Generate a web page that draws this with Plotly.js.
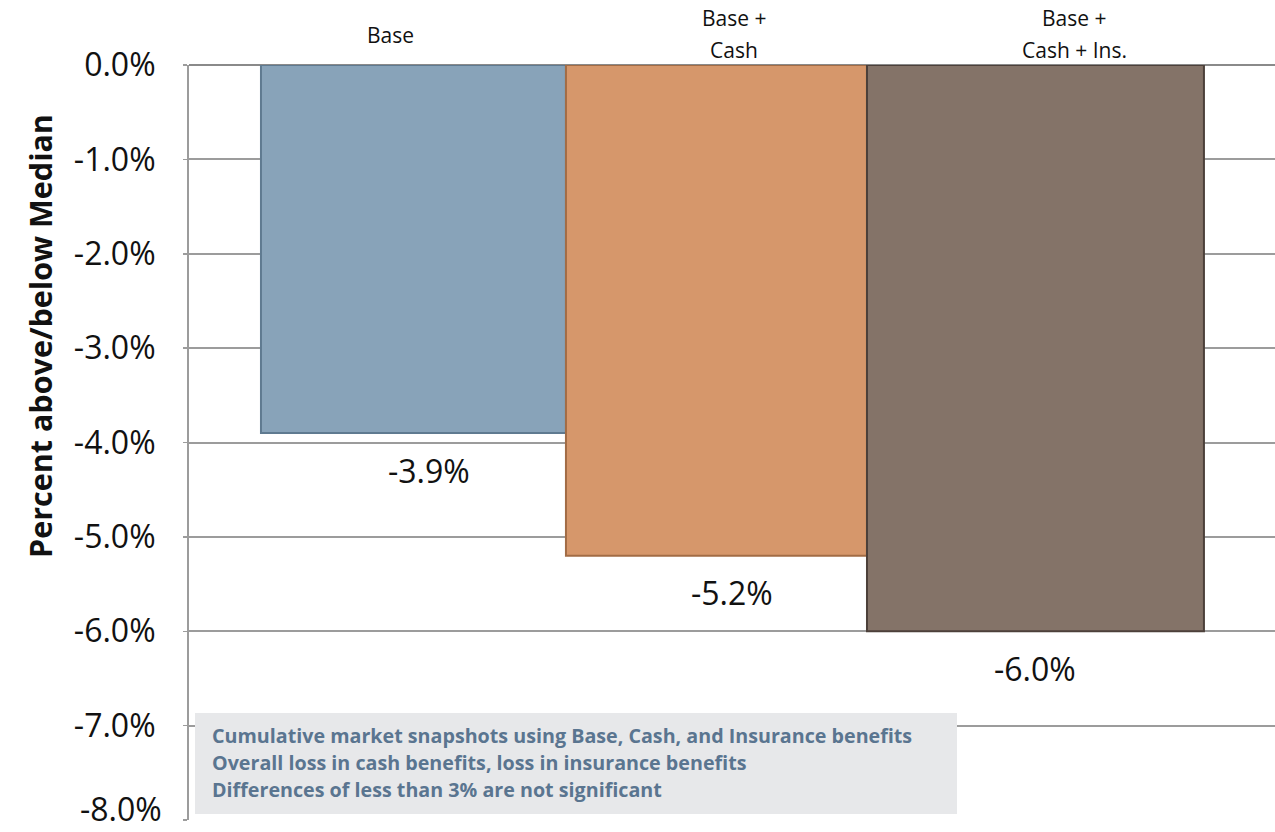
<!DOCTYPE html>
<html>
<head>
<meta charset="utf-8">
<script src="https://cdn.plot.ly/plotly-3.0.1.min.js"></script>
<style>
html,body{margin:0;padding:0;background:#fff;}
#chart{width:1275px;height:832px;}
</style>
</head>
<body>
<div id="chart"></div>
<script>
// ---- data ----
const categories = ["Base", "Base + Cash", "Base + Cash + Ins."];
const categoryLabels = ["Base", "Base +<br>Cash", "Base +<br>Cash + Ins."];
const values = [-3.9, -5.2, -6.0];
const yTickVals = [0, -1, -2, -3, -4, -5, -6, -7, -8];
const yAxisTitle = "Percent above/below Median";
const noteLines = [
  "Cumulative market snapshots using Base, Cash, and Insurance benefits",
  "Overall loss in cash benefits, loss in insurance benefits",
  "Differences of less than 3% are not significant"
];

// ---- styles ----
const barColors = ["#88A3B9", "#D6976B", "#847368"];
const barEdges  = ["#5F7A90", "#A26C45", "#4C403A"];
const barWidths = [1.0066, 0.9934, 1.112];
const barOffsets = [-0.5545, -0.548, -0.5545];
const labelXShift = [-38, 2, 39];
const FONT = "Open Sans, Noto Sans, sans-serif";
const fmtPct = v => (v < 0 ? "-" : "") + Math.abs(v).toFixed(1) + "%";

// the bottom tick label is drawn lifted (as in the original) via annotation
const lastTick = yTickVals[yTickVals.length - 1];
const yTickText = yTickVals.map(v => v === lastTick ? "" : fmtPct(v));

const trace = {
  type: "bar",
  x: categories,
  y: values,
  width: barWidths,
  offset: barOffsets,
  marker: {color: barColors, line: {color: barEdges, width: 2}},
  hoverinfo: "skip",
  showlegend: false
};

const PH = 755, TOP = 65;
const annotations = [];
// data labels
values.forEach((v, i) => {
  annotations.push({
    x: categories[i], y: v, xref: "x", yref: "y",
    text: fmtPct(v), showarrow: false,
    xanchor: "center", yanchor: "middle", yshift: -37,
    font: {family: FONT, size: 32, color: "#111"}
  });
});
// lifted bottom tick label
annotations.push({
  x: 0, xref: "paper", y: lastTick, yref: "y",
  text: fmtPct(lastTick), showarrow: false,
  xanchor: "right", yanchor: "middle", xshift: -25, yshift: 12,
  font: {family: FONT, size: 32, color: "#111"}
});
// y-axis title (placed above centre, as in the original)
annotations.push({
  x: 0, xref: "paper", y: (820 - 336) / PH, yref: "paper",
  text: "<b>" + yAxisTitle + "</b>", showarrow: false, textangle: -90,
  xanchor: "center", yanchor: "middle", xshift: -149,
  font: {family: FONT, size: 30.5, color: "#111"}
});
// category labels on top (line by line)
categoryLabels.forEach((lab, i) => {
  const lines = lab.split("<br>");
  const centers = lines.length === 1 ? [34.5] : [17.5, 50];
  lines.forEach((ln, j) => {
    annotations.push({
      x: categories[i], xref: "x", yref: "paper",
      y: 1 + (TOP - centers[j]) / PH,
      text: ln, showarrow: false, xanchor: "center", yanchor: "middle",
      xshift: labelXShift[i],
      font: {family: FONT, size: 21, color: "#111"}
    });
  });
});
// note box lines
const noteCenters = [735, 762, 789];
noteLines.forEach((ln, j) => {
  annotations.push({
    x: (210 - 189) / 1086, xref: "paper", yref: "paper",
    y: (820 - noteCenters[j]) / PH,
    text: "<b>" + ln + "</b>", showarrow: false,
    xanchor: "left", yanchor: "middle",
    font: {family: FONT, size: 19.7, color: "#5A7590"}
  });
});

const layout = {
  width: 1275, height: 832,
  margin: {l: 189, r: 0, t: 65, b: 12, pad: 0},
  paper_bgcolor: "#ffffff", plot_bgcolor: "#ffffff",
  font: {family: FONT},
  bargap: 0,
  xaxis: {
    type: "category", range: [-0.792, 2.792],
    showticklabels: false, showgrid: false, zeroline: false, showline: false, ticks: ""
  },
  yaxis: {
    range: [-8, 0], tickmode: "array", tickvals: yTickVals, ticktext: yTickText,
    showgrid: true, gridcolor: "#9C9C9C", gridwidth: 2,
    zeroline: true, zerolinecolor: "#8A8A8A", zerolinewidth: 2,
    showline: true, linecolor: "#9C9C9C", linewidth: 2,
    ticks: "outside", ticklen: 4, tickcolor: "#9C9C9C", tickwidth: 1.5,
    ticklabelstandoff: 21, ticklabeloverflow: "allow",
    tickfont: {family: FONT, size: 32, color: "#111"}
  },
  shapes: [{
    type: "rect", xref: "paper", yref: "paper", layer: "above",
    x0: (195 - 189) / 1086, x1: (957 - 189) / 1086,
    y0: (820 - 814) / PH, y1: (820 - 713) / PH,
    fillcolor: "#E7E8EA", line: {width: 0}
  }],
  annotations: annotations
};

Plotly.newPlot("chart", [trace], layout, {displayModeBar: false, staticPlot: true});
</script>
</body>
</html>
